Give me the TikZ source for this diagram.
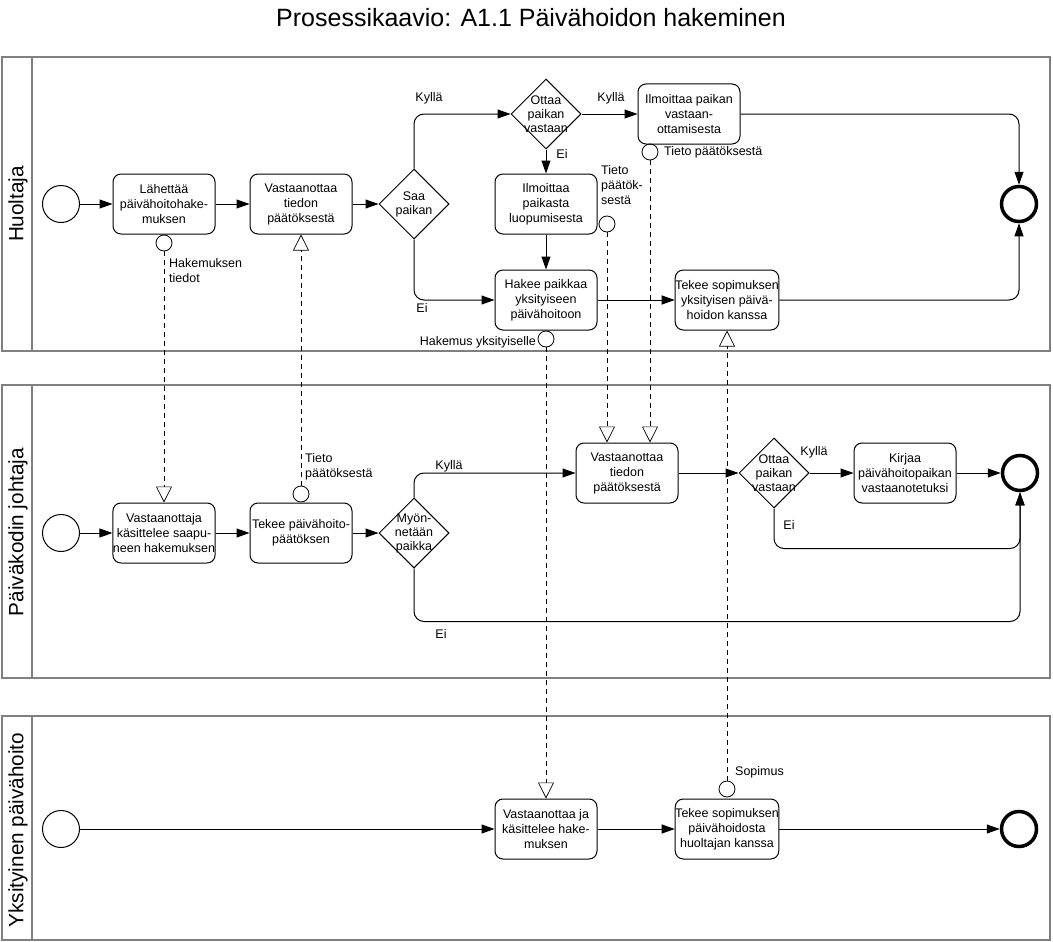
\documentclass[tikz,border=0pt]{standalone}
\usepackage{fontspec}
\setmainfont{Liberation Sans}
\usepackage{tikz}
\usetikzlibrary{shapes.geometric,arrows.meta}

\begin{document}
\begin{tikzpicture}[x=1pt, y=-1pt, node distance=137pt,
      task/.style={rectangle, draw, line width=1pt, rounded corners=8pt, minimum width=102pt, minimum height=60pt, inner sep=0pt, align=center, font=\fontsize{12.5}{15}\selectfont},
      gateway/.style={diamond, draw, line width=1pt, minimum width=70pt, minimum height=70pt, inner sep=0pt},
      gwtext/.style={align=center, inner sep=0pt, font=\fontsize{12.5}{14}\selectfont},
      startev/.style={circle, draw, line width=1pt, minimum size=37pt, inner sep=0pt},
      endev/.style={circle, draw, line width=3.5pt, minimum size=35pt, inner sep=0pt},
      msg/.style={circle, draw, line width=0.8pt, minimum size=16pt, inner sep=0pt},
      line/.style={draw, line width=1pt, -{Triangle[length=13pt, width=9pt]}, rounded corners=10pt},
      msgline/.style={draw, line width=0.7pt, dash pattern=on 5pt off 4pt, -{Triangle[open, length=16pt, width=16pt]}},
      lbl/.style={inner sep=0pt, align=left, font=\fontsize{12.5}{15}\selectfont},
      lane/.style={draw=black!50, line width=1.6pt},
      lanetitle/.style={rotate=90, inner sep=0pt, font=\fontsize{20.7}{24}\selectfont}]
      \useasboundingbox (0,0) rectangle (1053,942);

      % Title and lanes
      \node [anchor=base, font=\fontsize{25}{28}\selectfont] (title) at (531,27) {Prosessikaavio: A1.1 Päivähoidon hakeminen};
      \draw [lane] (2,57) rectangle (1050,351) (32,57) -- (32,351);
      \draw [lane] (2,385) rectangle (1050,678) (32,385) -- (32,678);
      \draw [lane] (2,716) rectangle (1050,940) (32,716) -- (32,940);
      \node [lanetitle] (lane1) at (18,204) {Huoltaja};
      \node [lanetitle] (lane2) at (18,532) {Päiväkodin johtaja};
      \node [lanetitle] (lane3) at (18,830) {Yksityinen päivähoito};

      % Huoltaja
      \node [startev] (start1) at (61,204) {};
      \node [task] (laheta) at (164,204) {Lähettää\\päivähoitohake-\\muksen};
      \node [task, right of=laheta] (tieto1) {Vastaanottaa\\tiedon\\päätöksestä};
      \node [gateway, right of=tieto1, node distance=113pt] (saa) {};
      \node [gwtext] (saatxt) at (saa) {Saa\\paikan};
      \node [gateway] (ottaa1) at (546,114) {};
      \node [gwtext] (ottaa1txt) at (ottaa1) {Ottaa\\paikan\\vastaan};
      \node [task, right of=ottaa1, node distance=143pt] (ilmp) {Ilmoittaa paikan\\vastaan-\\ottamisesta};
      \node [task, below of=ottaa1, node distance=90pt] (luopu) {Ilmoittaa\\paikasta\\luopumisesta};
      \node [task, below of=luopu, node distance=96pt] (hakee) {Hakee paikkaa\\yksityiseen\\päivähoitoon};
      \node [task, right of=hakee, node distance=181pt] (sopim1) {Tekee sopimuksen\\yksityisen päivä-\\hoidon kanssa};
      \node [endev] (end1) at (1019,204) {};

      \path [line] (start1) -- (laheta);
      \path [line] (laheta) -- (tieto1);
      \path [line] (tieto1) -- (saa);
      \path [line] (saa.north) |- (ottaa1.west);
      \path [line] (saa.south) |- (hakee.west);
      \path [line] (ottaa1) -- (ilmp);
      \path [line] (ottaa1) -- (luopu);
      \path [line] (luopu) -- (hakee);
      \path [line] (hakee) -- (sopim1);
      \path [line] (ilmp.east) -| (end1.north);
      \path [line] (sopim1.east) -| (end1.south);

      \node [lbl] (kylla1) at (429,98) {Kyllä};
      \node [lbl] (ei1) at (422,308) {Ei};
      \node [lbl] (kylla2) at (611,98) {Kyllä};
      \node [lbl] (ei2) at (562,154) {Ei};

      % Päiväkodin johtaja
      \node [startev] (start2) at (61,533) {};
      \node [task] (vastott) at (164,533) {Vastaanottaja\\käsittelee saapu-\\neen hakemuksen};
      \node [task, right of=vastott] (tekee) {Tekee päivähoito-\\päätöksen};
      \node [gateway, right of=tekee, node distance=113pt] (myon) {};
      \node [gwtext] (myontxt) at (myon) {Myön-\\netään\\paikka};
      \node [task] (vast2) at (627,473) {Vastaanottaa\\tiedon\\päätöksestä};
      \node [gateway, right of=vast2, node distance=147pt] (ottaa2) {};
      \node [gwtext] (ottaa2txt) at (ottaa2) {Ottaa\\paikan\\vastaan};
      \node [task, right of=ottaa2, node distance=131pt] (kirjaa) {Kirjaa\\päivähoitopaikan\\vastaanotetuksi};
      \node [endev] (end2) at (1020,473) {};

      \path [line] (start2) -- (vastott);
      \path [line] (vastott) -- (tekee);
      \path [line] (tekee) -- (myon);
      \path [line] (myon.north) |- (vast2.west);
      \path [line] (myon.south) -- ++(0,53) -| (end2.south);
      \path [line] (vast2) -- (ottaa2);
      \path [line] (ottaa2) -- (kirjaa);
      \path [line] (kirjaa) -- (end2);
      \path [line] (ottaa2.south) -- ++(0,40) -| (end2.south);

      \node [lbl] (kylla3) at (449,466) {Kyllä};
      \node [lbl] (ei3) at (441,634) {Ei};
      \node [lbl] (kylla4) at (814,452) {Kyllä};
      \node [lbl] (ei4) at (789,525) {Ei};

      % Yksityinen päivähoito
      \node [startev] (start3) at (61,829) {};
      \node [task] (vast3) at (546,829) {Vastaanottaa ja\\käsittelee hake-\\muksen};
      \node [task, right of=vast3, node distance=181pt] (sop3) {Tekee sopimuksen\\päivähoidosta\\huoltajan kanssa};
      \node [endev] (end3) at (1019,829) {};

      \path [line] (start3) -- (vast3);
      \path [line] (vast3) -- (sop3);
      \path [line] (sop3) -- (end3);

      % Message flows
      \node [msg] (msg1) at (164,243) {};
      \node [msg] (msg2) at (301,494) {};
      \node [msg] (msg3) at (607,224) {};
      \node [msg] (msg4) at (650,152) {};
      \node [msg] (msg5) at (546,339) {};
      \node [msg] (msg6) at (727,789) {};

      \path [msgline] (msg1) -- (vastott);
      \path [msgline] (msg2) -- (tieto1);
      \path [msgline] (msg3) -- (msg3 |- vast2.north);
      \path [msgline] (msg4) -- (msg4 |- vast2.north);
      \path [msgline] (msg5) -- (vast3);
      \path [msgline] (msg6) -- (sopim1);

      \node [lbl, anchor=north west] (msg1txt) at (169,258) {Hakemuksen\\tiedot};
      \node [lbl, anchor=north west] (msg2txt) at (305,453) {Tieto\\päätöksestä};
      \node [lbl, anchor=north west] (msg3txt) at (601,165) {Tieto\\päätök-\\sestä};
      \node [lbl, anchor=west] (msg4txt) at (664,152) {Tieto päätöksestä};
      \node [lbl, anchor=east] (msg5txt) at (536,342) {Hakemus yksityiselle};
      \node [lbl, anchor=west] (msg6txt) at (735,772) {Sopimus};

    \end{tikzpicture}
\end{document}
